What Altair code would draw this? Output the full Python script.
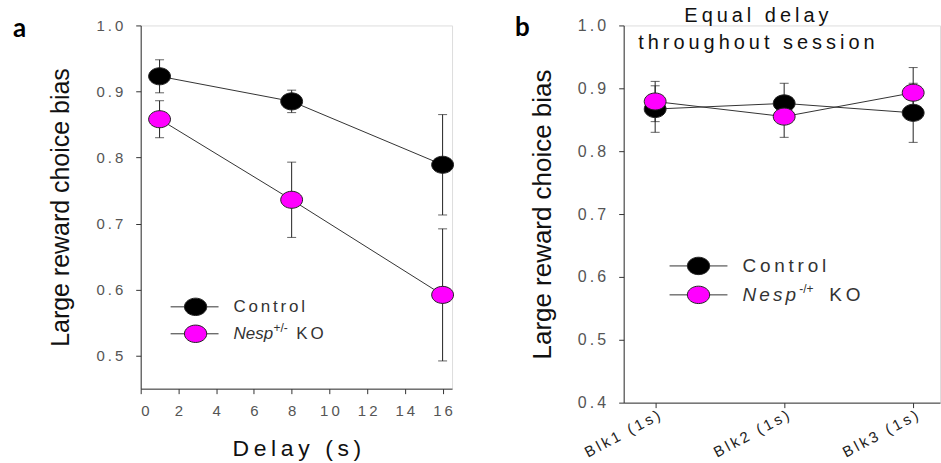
import altair as alt
import pandas as pd

# ---- panel a: choice bias across delays ----
delay_s = [1, 8, 16]
ctrl_a = [0.923, 0.885, 0.789]
ctrl_a_sem = [0.025, 0.017, 0.076]
ko_a = [0.858, 0.736, 0.592]
ko_a_sem = [0.028, 0.057, 0.100]

# ---- panel b: equal 1 s delay in every block ----
blocks = ["Blk1 (1s)", "Blk2 (1s)", "Blk3 (1s)"]
ctrl_b = [0.867, 0.876, 0.861]
ctrl_b_sem = [0.037, 0.032, 0.047]
ko_b = [0.879, 0.855, 0.893]
ko_b_sem = [0.032, 0.033, 0.040]

groups = ["Control", "KO"]
group_colors = ["#000000", "#FF00FF"]

FONT = "Liberation Sans"
THIN = "\u2009"      # thin space, used as letter spacing
SIXTH = "\u2006"     # narrower spacing for small legend text
ELLIPSE = "M-1,0A1,0.78,0,1,1,1,0A1,0.78,0,1,1,-1,0Z"


def spaced(s, sep=THIN):
    return sep.join(s)


def spaced_expr(sep):
    return "join(split(datum.label, ''), '" + sep + "')"


def frame(xs, ctrl, ctrl_sem, ko, ko_sem):
    rows = []
    for g, ys, es in (("Control", ctrl, ctrl_sem), ("KO", ko, ko_sem)):
        for x, y, e in zip(xs, ys, es):
            rows.append({"x": x, "y": y, "lo": y - e, "hi": y + e, "group": g})
    return pd.DataFrame(rows)


df_a = frame(delay_s, ctrl_a, ctrl_a_sem, ko_a, ko_a_sem)
df_b = frame(blocks, ctrl_b, ctrl_b_sem, ko_b, ko_b_sem)

# single-row source for annotation marks (legend, panel letters, titles)
note = alt.Chart(pd.DataFrame({"k": [0]}))

color = alt.Scale(domain=groups, range=group_colors)


def series_layers(base, x_enc, y_enc):
    line = base.mark_line(color="#333333", strokeWidth=1).encode(
        x=x_enc, y=y_enc, detail="group:N"
    )
    bar = base.mark_rule(color="#222222", strokeWidth=1).encode(
        x=x_enc, y="lo:Q", y2="hi:Q"
    )
    cap_lo = base.mark_tick(orient="horizontal", size=9, thickness=1, color="#222222").encode(
        x=x_enc, y="lo:Q"
    )
    cap_hi = base.mark_tick(orient="horizontal", size=9, thickness=1, color="#222222").encode(
        x=x_enc, y="hi:Q"
    )
    pts = base.mark_point(
        shape=ELLIPSE, size=480, filled=True, opacity=1, stroke="#222222", strokeWidth=1
    ).encode(
        x=x_enc, y=y_enc,
        fill=alt.Fill("group:N", scale=color, legend=None),
    )
    return [line, bar, cap_lo, cap_hi, pts]


def legend_layers(x0, x1, xc, xt, y_rows, fs, sep, nesp_sep,
                  sup_text, x_sup, x_ko, sup_fs):
    layers = []
    for g, yv in zip(groups, y_rows):
        layers.append(note.mark_rule(color="#333333", strokeWidth=1).encode(
            x=alt.value(x0), x2=alt.value(x1), y=alt.value(yv)))
        layers.append(note.mark_point(
            shape=ELLIPSE, size=500, filled=True, opacity=1, stroke="#222222",
            strokeWidth=1, fill=group_colors[groups.index(g)]
        ).encode(x=alt.value(xc), y=alt.value(yv)))
    txt = dict(font=FONT, fontSize=fs, fontWeight="normal", fill="#333333",
               align="left", baseline="middle")
    layers.append(note.mark_text(text=spaced("Control", sep), **txt).encode(
        x=alt.value(xt), y=alt.value(y_rows[0])))
    layers.append(note.mark_text(text=spaced("Nesp", nesp_sep), fontStyle="italic",
                                 **txt).encode(
        x=alt.value(xt), y=alt.value(y_rows[1])))
    txt_sup = dict(txt, fontSize=sup_fs)
    layers.append(note.mark_text(text=sup_text, **txt_sup).encode(
        x=alt.value(x_sup), y=alt.value(y_rows[1] - 6)))
    layers.append(note.mark_text(text=spaced("KO", sep), **txt).encode(
        x=alt.value(x_ko), y=alt.value(y_rows[1])))
    return layers


def panel_letter(letter, x, y):
    return note.mark_text(text=letter, font="Lato", fontWeight="bold", fontSize=26,
                          align="left", baseline="middle", fill="#000000").encode(
        x=alt.value(x), y=alt.value(y))


axis_common = dict(
    domainColor="#333333", tickColor="#333333", tickSize=5,
    labelFont=FONT, titleFont=FONT, titleColor="#111111", grid=False,
)

# ---- panel a ----
base_a = alt.Chart(df_a)
xa = alt.X(
    "x:Q",
    scale=alt.Scale(domain=[0, 16.5], nice=False, zero=False),
    axis=alt.Axis(values=list(range(0, 17, 2)), title=spaced("Delay (s)"),
                  labelFontSize=15, labelColor="#555555", titleFontSize=23,
                  titleFontWeight="normal", labelPadding=10, titlePadding=19,
                  labelExpr=spaced_expr(THIN), **axis_common),
)
ya = alt.Y(
    "y:Q",
    scale=alt.Scale(domain=[0.45, 1.0], nice=False, zero=False),
    axis=alt.Axis(values=[0.5, 0.6, 0.7, 0.8, 0.9, 1.0], format=".1f",
                  title="Large reward choice bias", labelFontSize=15,
                  labelColor="#555555", titleFontSize=25, titleFontWeight="normal",
                  labelPadding=13, titlePadding=22, labelExpr=spaced_expr(THIN),
                  **axis_common),
)
panel_a = alt.layer(
    *series_layers(base_a, xa, ya),
    *legend_layers(30, 78, 55, 93, [282, 309], 17, SIXTH, "",
                   "+/-", 133, 156, 12),
    panel_letter("a", -128, 4),
).properties(width=312, height=364)

# ---- panel b ----
base_b = alt.Chart(df_b)
xb = alt.X(
    "x:N",
    sort=blocks,
    scale=alt.Scale(type="point", padding=0.226, align=0.54),
    axis=alt.Axis(title=None, labelAngle=-28, labelFontSize=15,
                  labelColor="#222222", labelPadding=0,
                  labelExpr=spaced_expr(THIN), **axis_common),
)
yb = alt.Y(
    "y:Q",
    scale=alt.Scale(domain=[0.4, 1.0], nice=False, zero=False),
    axis=alt.Axis(values=[0.4, 0.5, 0.6, 0.7, 0.8, 0.9, 1.0], format=".1f",
                  title="Large reward choice bias", labelFontSize=16,
                  labelColor="#555555", titleFontSize=26, titleFontWeight="normal",
                  labelPadding=13, titlePadding=22, labelExpr=spaced_expr(THIN),
                  **axis_common),
)
title_txt = dict(font=FONT, fontSize=20, fontWeight="normal", fill="#111111",
                 align="center", baseline="middle")
panel_b = alt.layer(
    *series_layers(base_b, xb, yb),
    *legend_layers(46, 104, 75, 119, [241, 270], 19, THIN, SIXTH,
                   "-/+", 176, 206, 12),
    note.mark_text(text=spaced("Equal delay"), **title_txt).encode(
        x=alt.value(133), y=alt.value(-9)),
    note.mark_text(text=spaced("throughout session"), **title_txt).encode(
        x=alt.value(133), y=alt.value(18)),
    panel_letter("b", -109, 3),
).properties(width=317, height=378)

chart = alt.hconcat(panel_a, panel_b, spacing=172, bounds="flush").properties(
    padding={"left": 12, "top": 5, "right": 0, "bottom": 0}
).configure_view(strokeWidth=0).configure(background="white")

chart.save("out.html", embed_options={"renderer": "svg", "actions": False})
